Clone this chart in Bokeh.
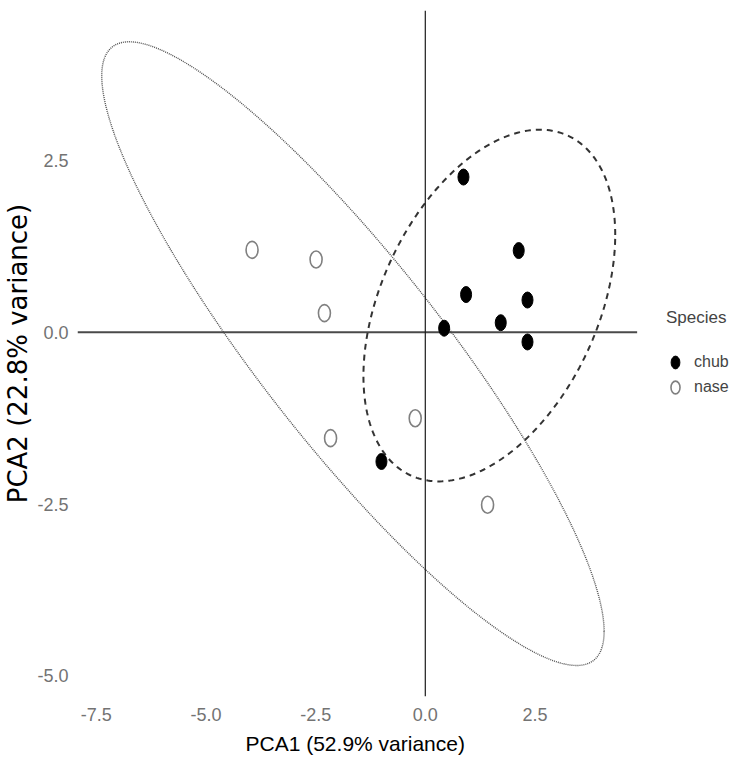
import numpy as np
from bokeh.plotting import figure
from bokeh.models import (Range1d, FixedTicker, Legend, LegendItem, Span,
                          Title)
from bokeh.embed import file_html
from bokeh.resources import INLINE

# ---- data ----
chub_pca1 = [0.87, 2.13, 0.93, 2.33, 1.72, 0.43, 2.33, -1.00]
chub_pca2 = [2.26, 1.19, 0.55, 0.47, 0.14, 0.06, -0.14, -1.88]
nase_pca1 = [-3.95, -2.49, -2.30, -0.23, -2.16, 1.42]
nase_pca2 = [1.20, 1.06, 0.28, -1.25, -1.54, -2.51]

# 95% ellipses: centre and shape matrix
chub_centre = [1.46, 0.39]
chub_shape = [[8.24, 2.95], [2.95, 6.55]]
nase_centre = [-1.65, -0.31]
nase_shape = [[32.8, -23.15], [-23.15, 20.6]]

x_ticks = [-7.5, -5.0, -2.5, 0.0, 2.5]
y_ticks = [-5.0, -2.5, 0.0, 2.5]
x_tick_labels = ["-7.5", "-5.0", "-2.5", "0.0", "2.5"]
y_tick_labels = ["-5.0", "-2.5", "0.0", "2.5"]
species = ["chub", "nase"]

# panel limits of the original chart (the horizontal zero line spans them)
panel_x = [-7.93, 4.83]
panel_y = [-5.30, 4.684]
# drawing area is widened to the right so the legend can sit inside it
canvas_x_end = 7.05


def ellipse_path(centre, shape, n=300):
    t = np.linspace(0, 2 * np.pi, n)
    L = np.linalg.cholesky(np.array(shape))
    pts = L @ np.vstack([np.cos(t), np.sin(t)])
    return pts[0] + centre[0], pts[1] + centre[1]


SANS = "Liberation Sans"
WIDE = "DejaVu Sans"

p = figure(width=734, height=764, output_backend="svg", toolbar_location=None,
           x_range=Range1d(panel_x[0], canvas_x_end),
           y_range=Range1d(panel_y[0], panel_y[1]),
           min_border_left=72, min_border_right=0, min_border_top=10,
           min_border_bottom=68)
p.outline_line_color = None
p.grid.visible = False
p.background_fill_color = "white"

# reference lines
p.segment(x0=[panel_x[0]], y0=[0], x1=[panel_x[1]], y1=[0],
          line_color="#4a4a4a", line_width=2)
p.add_layout(Span(location=0, dimension="height", line_color="#1a1a1a", line_width=1.2))

# ellipses
ex, ey = ellipse_path(nase_centre, nase_shape)
p.line(ex, ey, line_color="#505050", line_width=1.4, line_dash="1 1")
ex, ey = ellipse_path(chub_centre, chub_shape)
p.line(ex, ey, line_color="#333333", line_width=2, line_dash="6 5")

# points
chub_r = p.ellipse(chub_pca1, chub_pca2, width=11, height=16,
                   width_units="screen", height_units="screen",
                   fill_color="black", line_color="black", line_width=1)
nase_r = p.ellipse(nase_pca1, nase_pca2, width=12, height=17,
                   width_units="screen", height_units="screen",
                   fill_color=None, line_color="#808080", line_width=1.6)

# axes
for ax, ticks, labels in ((p.xaxis[0], x_ticks, x_tick_labels),
                          (p.yaxis[0], y_ticks, y_tick_labels)):
    ax.ticker = FixedTicker(ticks=ticks)
    ax.major_label_overrides = {t: l for t, l in zip(ticks, labels)}
    ax.axis_line_color = None
    ax.major_tick_line_color = None
    ax.minor_tick_line_color = None
    ax.major_tick_out = 0
    ax.major_tick_in = 0
    ax.minor_tick_out = 0
    ax.minor_tick_in = 0
    ax.major_label_text_font = SANS
    ax.major_label_text_font_size = "18px"
    ax.major_label_text_color = "#737373"
    ax.axis_label_text_font_style = "normal"
    ax.axis_label_text_color = "black"

p.xaxis.major_label_standoff = 11

p.yaxis.axis_label = "PCA2 (22.8% variance)"
p.yaxis.axis_label_text_font = WIDE
p.yaxis.axis_label_text_font_size = "26px"
p.yaxis.major_label_standoff = 9
p.yaxis.axis_label_standoff = 1

# x title, placed under the original panel's centre
xtitle = Title(text="PCA1 (52.9% variance)", align="left", offset=168,
               text_font=SANS, text_font_size="21px", text_font_style="normal",
               text_color="black", standoff=12)
p.add_layout(xtitle, "below")

legend = Legend(items=[LegendItem(label=species[0], renderers=[chub_r]),
                       LegendItem(label=species[1], renderers=[nase_r])],
                title="Species", location=(589, 299))
legend.padding = 0
legend.margin = 0
legend.border_line_color = None
legend.background_fill_alpha = 0
legend.title_text_font = SANS
legend.title_text_font_size = "17px"
legend.title_text_font_style = "normal"
legend.title_standoff = 24
legend.label_text_font = SANS
legend.label_text_font_size = "16px"
legend.label_standoff = 10
legend.glyph_width = 18
legend.glyph_height = 16
legend.label_height = 20
legend.spacing = 5
p.add_layout(legend, "center")

open("out.html", "w").write(file_html(p, INLINE))
